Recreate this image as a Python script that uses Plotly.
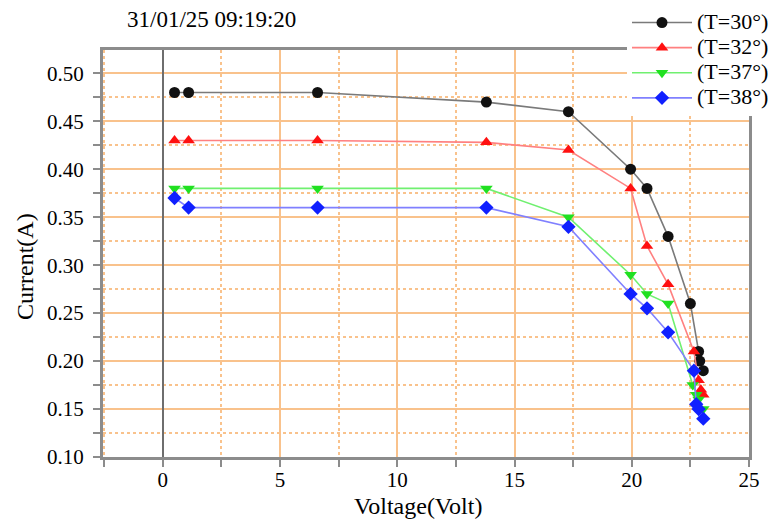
import plotly.graph_objects as go

# ---- data ----
names = ["(T=30°)", "(T=32°)", "(T=37°)", "(T=38°)"]

v_t30 = [0.5, 1.1, 6.6, 13.8, 17.3, 19.95, 20.65, 21.55, 22.5, 22.85, 22.9, 23.05]
i_t30 = [0.48, 0.48, 0.48, 0.47, 0.46, 0.40, 0.38, 0.33, 0.26, 0.21, 0.20, 0.19]

v_t32 = [0.5, 1.1, 6.6, 13.8, 17.3, 19.95, 20.65, 21.55, 22.65, 22.85, 22.95, 23.05]
i_t32 = [0.43, 0.43, 0.43, 0.428, 0.42, 0.38, 0.32, 0.28, 0.21, 0.18, 0.17, 0.165]

v_t37 = [0.5, 1.1, 6.6, 13.8, 17.3, 19.95, 20.65, 21.55, 22.6, 22.75, 22.85, 23.05]
i_t37 = [0.38, 0.38, 0.38, 0.38, 0.35, 0.29, 0.27, 0.26, 0.175, 0.165, 0.16, 0.15]

v_t38 = [0.5, 1.1, 6.6, 13.8, 17.3, 19.95, 20.65, 21.55, 22.65, 22.75, 22.85, 23.05]
i_t38 = [0.37, 0.36, 0.36, 0.36, 0.34, 0.27, 0.255, 0.23, 0.19, 0.155, 0.15, 0.14]

x_ticks = [0, 5, 10, 15, 20, 25]
y_ticks = [0.10, 0.15, 0.20, 0.25, 0.30, 0.35, 0.40, 0.45, 0.50]

title_text = "31/01/25 09:19:20"
x_title = "Voltage(Volt)"
y_title = "Current(A)"

# ---- styles ----
series = [
    (v_t30, i_t30, "#7a7a7a", "circle", "#111111"),
    (v_t32, i_t32, "#ff8080", "triangle-up", "#ff1010"),
    (v_t37, i_t37, "#70f070", "triangle-down", "#20e020"),
    (v_t38, i_t38, "#8080ff", "diamond", "#1020ff"),
]

FONT = "Liberation Serif, Times New Roman, serif"
GRID = "#f9c28c"
AX = "#8c8c8c"

# page offset (body margin) – positions below are in screen pixels of the target
OFF = 8
W, H = 783 - OFF, 519 - OFF
L, R, T, B = 103 - OFF, 749 - OFF, 50 - OFF, 457 - OFF
PW, PH = R - L, B - T


def px(xs):
    return (xs - OFF - L) / PW


def py(ys):
    return (B - (ys - OFF)) / PH


fig = go.Figure()
for (xs, ys, lc, sym, mc), nm in zip(series, names):
    fig.add_trace(go.Scatter(
        x=xs, y=ys, name='<span style="font-size:22px">' + nm + '</span>',
        mode="lines+markers",
        line=dict(color=lc, width=1.6),
        marker=dict(symbol=sym, size=11, color=mc, line=dict(width=0)),
    ))

fig.update_layout(
    width=W, height=H,
    margin=dict(l=L, r=W - R, t=T, b=H - B, autoexpand=False),
    paper_bgcolor="white", plot_bgcolor="white",
    font=dict(family=FONT, size=21, color="black"),
    showlegend=True,
    legend=dict(
        x=px(627), y=py(5), xanchor="left", yanchor="top",
        bgcolor="white", borderwidth=0,
        font=dict(family=FONT, size=17, color="black"),
        itemwidth=60, tracegroupgap=0,
    ),
    annotations=[
        dict(text=title_text, x=px(211), y=py(20), xref="paper", yref="paper",
             xanchor="center", yanchor="middle", showarrow=False,
             font=dict(family=FONT, size=23, color="black")),
        dict(text=x_title, x=px(418), y=py(506), xref="paper", yref="paper",
             xanchor="center", yanchor="middle", showarrow=False,
             font=dict(family=FONT, size=24, color="black")),
        dict(text=y_title, x=px(25), y=py(267), xref="paper", yref="paper",
             xanchor="center", yanchor="middle", showarrow=False, textangle=-90,
             font=dict(family=FONT, size=24, color="black")),
    ],
)

fig.update_xaxes(
    range=[-2.55, 25], tickvals=x_ticks, ticktext=[str(t) for t in x_ticks],
    ticks="outside", ticklen=7, tickwidth=2, tickcolor=AX, ticklabelstandoff=-5,
    showgrid=True, gridcolor=GRID, gridwidth=2,
    minor=dict(dtick=2.5, tick0=0, ticks="outside", ticklen=7, tickwidth=2, tickcolor=AX,
               showgrid=True, gridcolor=GRID, gridwidth=2, griddash="dot"),
    zeroline=True, zerolinecolor="#6e6e6e", zerolinewidth=2,
    showline=True, linecolor=AX, linewidth=3, mirror=True,
    tickfont=dict(family=FONT, size=21),
    automargin=False,
)
fig.update_yaxes(
    range=[0.10, 0.5243], tickvals=y_ticks, ticktext=[f"{t:.2f}" for t in y_ticks],
    ticks="outside", ticklen=7, tickwidth=2, tickcolor=AX, ticklabelstandoff=5,
    showgrid=True, gridcolor=GRID, gridwidth=2,
    minor=dict(dtick=0.025, tick0=0.0, ticks="outside", ticklen=7, tickwidth=2, tickcolor=AX,
               showgrid=True, gridcolor=GRID, gridwidth=2, griddash="dot"),
    zeroline=False,
    showline=True, linecolor=AX, linewidth=3, mirror=True,
    tickfont=dict(family=FONT, size=21),
    automargin=False,
)

fig.write_html("out.html")
